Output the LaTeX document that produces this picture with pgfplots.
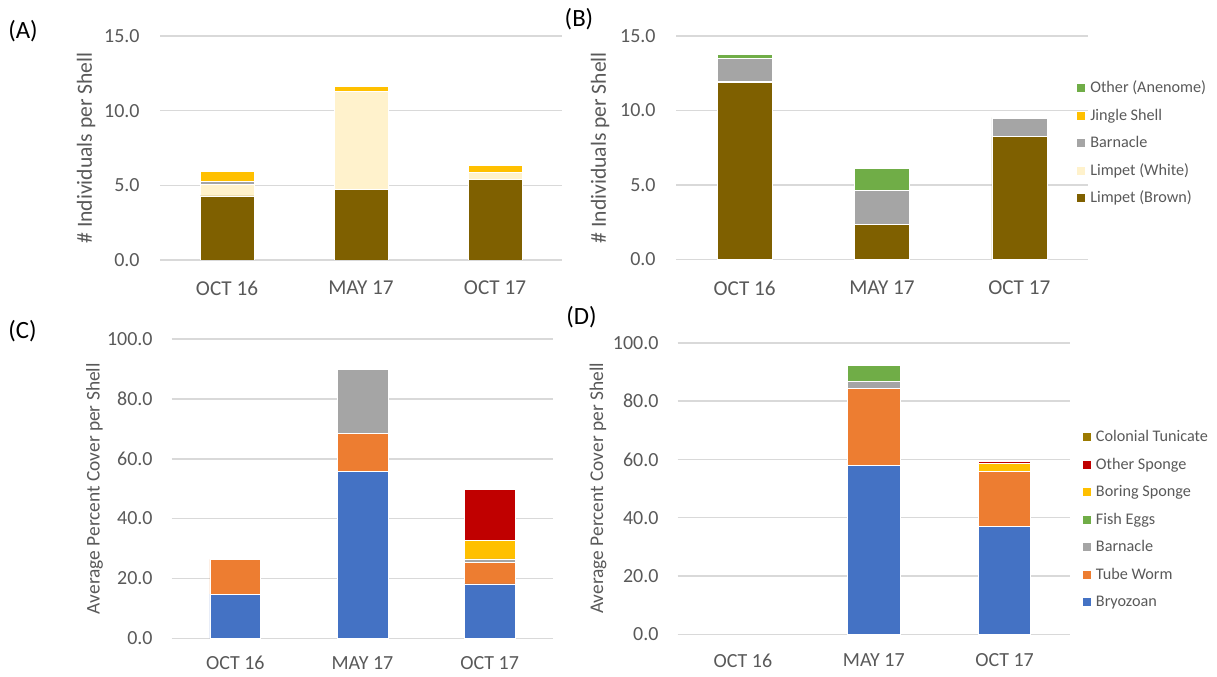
\documentclass[border=0pt]{standalone}
\usepackage{pgfplots}
\pgfplotsset{compat=1.18}
\usepackage{fontspec}
\setmainfont{Carlito}

\definecolor{txt}{HTML}{595959}
\definecolor{gridc}{HTML}{D9D9D9}
\definecolor{limbrown}{HTML}{7F6000}
\definecolor{limwhite}{HTML}{FFF2CC}
\definecolor{barn}{HTML}{A5A5A5}
\definecolor{jingle}{HTML}{FFC000}
\definecolor{othgreen}{HTML}{70AD47}
\definecolor{bryo}{HTML}{4472C4}
\definecolor{tube}{HTML}{ED7D31}
\definecolor{osponge}{HTML}{C00000}
\definecolor{tunic}{HTML}{9C7A00}
\definecolor{navy}{HTML}{264478}

\pgfplotsset{
  panel/.style={
    scale only axis,
    ybar stacked,
    bar width=0.4,
    xmin=-0.5, xmax=2.5, ymin=0,
    xtick={0,1,2},
    xticklabels={OCT 16, MAY 17, OCT 17},
    axis line style={draw=none},
    major tick length=0pt,
    ymajorgrids,
    grid style={gridc, line width=0.8pt},
    ticklabel style={font=\fontsize{10}{12}\selectfont, text=txt},
    /pgf/number format/assume math mode=true,
    yticklabel style={anchor=east, inner sep=0pt,
      /pgf/number format/fixed, /pgf/number format/fixed zerofill,
      /pgf/number format/precision=1},
    xticklabel style={anchor=center, inner sep=0pt},
    every axis plot/.append style={draw=white, line width=0.3pt},
    legend image code/.code={\fill[##1, draw=none] (0pt,-2pt) rectangle (4pt,2pt);},
    legend style={draw=none, fill=none, inner sep=0pt, anchor=north west,
      font=\fontsize{8.1}{9}\selectfont, text=txt,
      nodes={inner sep=0pt, text height=5.8pt, text depth=1.2pt},
      row sep=6.75pt, column sep=2.5pt},
    legend cell align=left,
    reverse legend,
  },
  ylab/.style 2 args={ylabel style={font=\fontsize{#2}{12}\selectfont, text=txt,
      at={([xshift=-#1]axis description cs:0,0.5)}, anchor=center}},
}

\begin{document}
\begin{tikzpicture}
\path[use as bounding box] (0,0) rectangle (608.5pt,338pt);

% (A)
\begin{axis}[panel, at={(80pt,208pt)}, anchor=south west,
  width=201pt, height=112pt, ymax=15, ytick={0,5,10,15},
  ylabel={\# Individuals per Shell}, ylab={37pt}{10.8},
  yticklabel style={xshift=-10pt},
  xticklabel style={yshift=-14pt, font=\fontsize{10.6}{12}\selectfont}]
  \addplot[fill=limbrown] coordinates {(0,4.29) (1,4.73) (2,5.38)};
  \addplot[fill=limwhite] coordinates {(0,0.75) (1,6.54) (2,0.46)};
  \addplot[fill=barn] coordinates {(0,0.20) (1,0) (2,0)};
  \addplot[fill=jingle] coordinates {(0,0.69) (1,0.33) (2,0.47)};
\end{axis}

% (B)
\begin{axis}[panel, at={(338pt,208.25pt)}, anchor=south west,
  width=206pt, height=111.75pt, ymax=15, ytick={0,5,10,15},
  ylabel={\# Individuals per Shell}, ylab={38pt}{10.8},
  yticklabel style={xshift=-10pt},
  xticklabel style={yshift=-14.25pt, font=\fontsize{10.6}{12}\selectfont},
  legend style={at={(axis description cs:0.973,0.7987)}}]
  \addplot[fill=limbrown] coordinates {(0,11.89) (1,2.35) (2,8.24)};
  \addplot[fill=limwhite] coordinates {(0,0.05) (1,0) (2,0)};
  \addplot[fill=barn] coordinates {(0,1.58) (1,2.28) (2,1.23)};
  \addplot[fill=jingle] coordinates {(0,0) (1,0) (2,0)};
  \addplot[fill=othgreen] coordinates {(0,0.25) (1,1.48) (2,0.05)};
  \legend{Limpet (Brown),Limpet (White),Barnacle,Jingle Shell,Other (Anenome)}
\end{axis}

% (C)
\begin{axis}[panel, at={(85.85pt,18.85pt)}, anchor=south west,
  width=190.8pt, height=149.65pt, ymax=100, ytick={0,20,...,100},
  ylabel={Average Percent Cover per Shell}, ylab={38.6pt}{9.7},
  yticklabel style={xshift=-9.35pt}, xticklabel style={yshift=-12.5pt}]
  \addplot[fill=bryo] coordinates {(0,14.8) (1,55.8) (2,18.15)};
  \addplot[fill=tube] coordinates {(0,11.6) (1,12.7) (2,7.15)};
  \addplot[fill=barn] coordinates {(0,0) (1,21.4) (2,1.2)};
  \addplot[fill=othgreen] coordinates {(0,0) (1,0) (2,0)};
  \addplot[fill=jingle] coordinates {(0,0) (1,0) (2,6.3)};
  \addplot[fill=osponge] coordinates {(0,0) (1,0) (2,17.1)};
  \addplot[fill=navy] coordinates {(0,0) (1,0) (2,0.3)};
\end{axis}

% (D)
\begin{axis}[panel, at={(338.8pt,20.85pt)}, anchor=south west,
  width=196.2pt, height=145.8pt, ymax=100, ytick={0,20,...,100},
  ylabel={Average Percent Cover per Shell}, ylab={39.8pt}{9.7},
  yticklabel style={xshift=-9.35pt}, xticklabel style={yshift=-13.1pt},
  legend style={at={(axis description cs:1.032,0.7016)}}]
  \addplot[fill=bryo] coordinates {(0,0) (1,57.9) (2,37.0)};
  \addplot[fill=tube] coordinates {(0,0) (1,26.4) (2,18.8)};
  \addplot[fill=barn] coordinates {(0,0) (1,2.3) (2,0)};
  \addplot[fill=othgreen] coordinates {(0,0) (1,5.7) (2,0)};
  \addplot[fill=jingle] coordinates {(0,0) (1,0) (2,2.8)};
  \addplot[fill=osponge] coordinates {(0,0) (1,0) (2,0.8)};
  \addplot[fill=tunic] coordinates {(0,0) (1,0) (2,0)};
  \legend{Bryozoan,Tube Worm,Barnacle,Fish Eggs,Boring Sponge,Other Sponge,Colonial Tunicate}
\end{axis}

\node[font=\fontsize{12.4}{14}\selectfont] at (11.5pt,322.5pt) {(A)};
\node[font=\fontsize{12.4}{14}\selectfont] at (289.5pt,328.5pt) {(B)};
\node[font=\fontsize{12.4}{14}\selectfont] at (11.25pt,172.5pt) {(C)};
\node[font=\fontsize{12.4}{14}\selectfont] at (290.75pt,179.5pt) {(D)};
\end{tikzpicture}
\end{document}
